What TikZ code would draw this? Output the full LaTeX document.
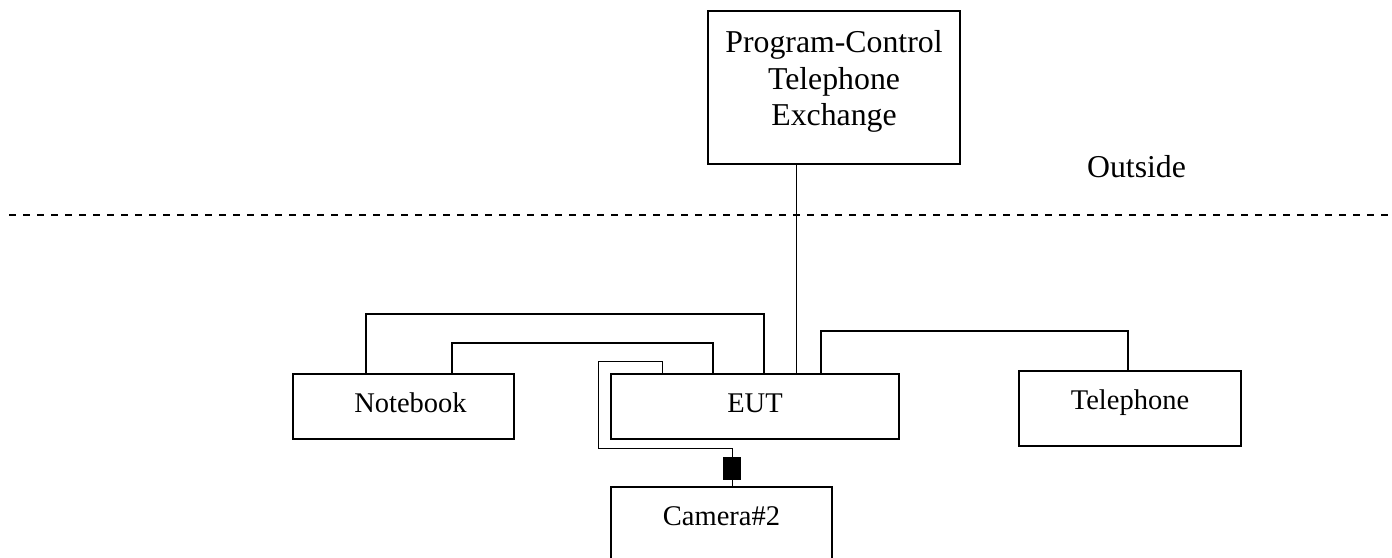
\documentclass[tikz,border=0pt]{standalone}
\usepackage{fontspec}
\setmainfont{Liberation Serif}
\usetikzlibrary{positioning}

\begin{document}
\begin{tikzpicture}[
  x=0.5pt, y=-0.5pt,
  box/.style={draw, line width=0.85pt, inner sep=0pt},
  txt/.style={font=\fontsize{14.25}{17}\selectfont, text height=9.7pt, text depth=#1},
  big/.style={font=\fontsize{15.9}{18.25}\selectfont},
  cable/.style={line width=0.65pt},
  fine/.style={line width=0.5pt},
  plug/.style={fill=black, draw=none, minimum width=9pt, minimum height=11.5pt, inner sep=0pt},
  sep/.style={line width=1pt, dash pattern=on 3.7pt off 3.3pt},
]
\useasboundingbox (0,0) rectangle (1392,557);
\clip (0,0) rectangle (1392,557);

% Lado exterior
\node[box, big, align=center, minimum width=126pt, minimum height=76.5pt] (exch) at (834,87.5)
  {Program-Control\\Telephone\\Exchange\rule[-9.5pt]{0pt}{9.5pt}};
\node[big, anchor=base] (out) at (1136.5,177) {Outside};
\draw[sep] (9,214.5) -- (1392,214.5);

% Equipos
\node[box, txt=4.2pt, minimum width=110.5pt, minimum height=32.5pt] (note) at (403.5,406.5) {\hspace*{7pt}Notebook};
\node[box, txt=4.2pt, minimum width=144pt, minimum height=32.5pt] (eut) at (755,406.5) {EUT};
\node[box, txt=9.2pt, minimum width=111pt, minimum height=37.5pt] (tel) at (1130,408.5) {Telephone};
\node[box, txt=10.7pt, minimum width=110.5pt, minimum height=39pt] (cam) at (721.5,526) {Camera\#2};
\node[plug] (plg) at (732,468.5) {};

% Cables
\draw[fine] (exch.south -| 796,0) -- (eut.north -| 796,0);
\draw[cable] (note.north -| 366,0) -- (366,314) -| (eut.north -| 764,0);
\draw[cable] (note.north -| 452,0) -- (452,343) -| (eut.north -| 713,0);
\draw[cable] (eut.north -| 821,0) -- (821,331) -| (tel.north -| 1128,0);
\draw[fine] (eut.north -| 662,0) |- (598,361) |- (plg.north |- 0,448) -- (plg.north);
\draw[fine] (plg.south) -- (plg.south |- cam.north);
\end{tikzpicture}
\end{document}
